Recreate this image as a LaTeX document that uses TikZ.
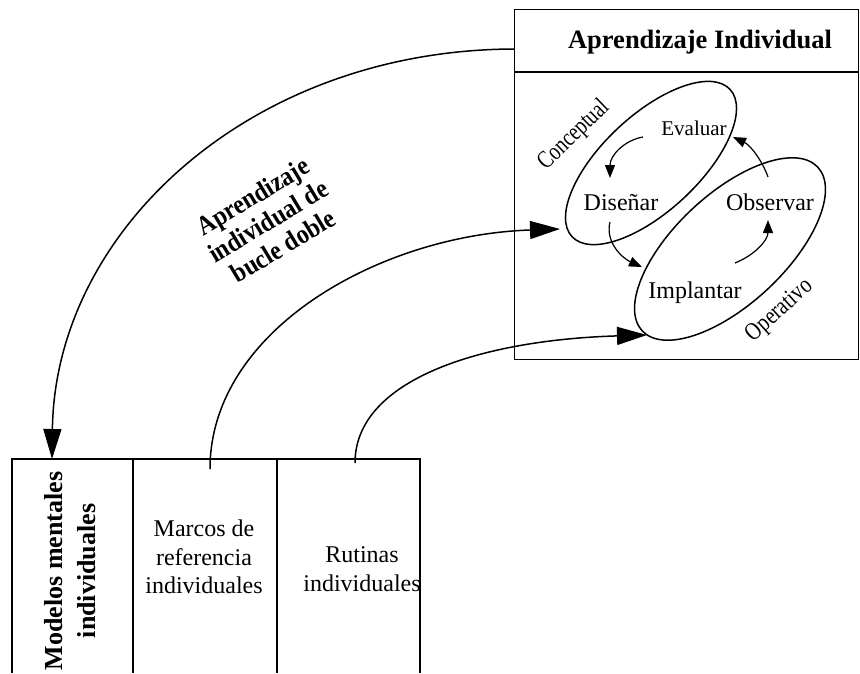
\documentclass[tikz,border=0pt]{standalone}
\usepackage{fontspec}
\setmainfont{Liberation Serif}
\usetikzlibrary{arrows.meta,shapes.geometric,calc}
% narrow setting for the slanted labels
\newcommand{\narrow}[2]{\scalebox{#1}[1]{#2}}
\begin{document}
\begin{tikzpicture}[x=1pt,y=-1pt,
  frame/.style={line width=1.4pt},
  loopshape/.style={draw, ellipse, line width=1.5pt, inner sep=0pt},
  bigarrow/.style={line width=1.5pt, -{Triangle[length=30pt,width=18pt]}},
  smallarrow/.style={line width=1.2pt, -{Triangle[length=13pt,width=10pt]}},
  steptext/.style={font=\fontsize{24}{28}\selectfont, inner sep=0pt, anchor=base},
  celltext/.style={font=\fontsize{24}{28.5}\selectfont, inner sep=0pt, align=center},
  looplabel/.style={font=\fontsize{25}{28}\selectfont, inner sep=0pt},
  boldtext/.style={font=\bfseries\fontsize{26}{33}\selectfont, inner sep=0pt, align=center}
]
\useasboundingbox (0,0) rectangle (860,673);

% --- Individual learning panel ---
\node[frame, draw, inner sep=0pt, minimum width=344pt, minimum height=350pt,
      anchor=north west] (ai) at (514,9) {};
\draw[frame] ($(ai.north west)+(0,63)$) -- ($(ai.north east)+(0,63)$);
\node[font=\bfseries\fontsize{26.5}{30}\selectfont, inner sep=0pt, anchor=base]
      (title) at (700,48) {Aprendizaje Individual};

% the two learning loops
\node[loopshape, minimum width=216pt, minimum height=96pt, rotate=43] (conc) at (651,163) {};
\node[loopshape, minimum width=240pt, minimum height=110pt, rotate=43] (oper) at (730,249) {};

\node[looplabel, rotate=44] (lconc) at (574,135) {\narrow{0.78}{Conceptual}};
\node[looplabel, rotate=42] (loper) at (780,311) {\narrow{0.81}{Operativo}};

\node[steptext, font=\fontsize{21}{25}\selectfont] (ev) at (694,135) {Evaluar};
\node[steptext] (dis) at (621,210) {Diseñar};
\node[steptext] (obs) at (770,210) {Observar};
\node[steptext] (imp) at (695,298) {Implantar};

% cycle arrows
\draw[smallarrow] ($(ev.base)+(-51,2)$) .. controls +(-18,3) and +(0,-23) .. ($(dis.base)+(-11,-32)$);
\draw[smallarrow] ($(dis.base)+(-11,12)$) .. controls +(-5,20) and +(-20,-9) .. ($(imp.base)+(-53,-31)$);
\draw[smallarrow] ($(imp.base)+(40,-35)$) .. controls +(20,-8) and +(0,20) .. ($(obs.base)+(-2,10)$);
\draw[smallarrow] ($(obs.base)+(-2,-33)$) .. controls +(-6,-17) and +(17,8) .. ($(ev.base)+(39,2)$);

% --- Individual mental models table ---
\draw[frame] (12,673) -- (12,459) -- (420,459) -- (420,673);
\draw[frame] (133,459) -- (133,673);
\draw[frame] (277,459) -- (277,673);

\node[boldtext, rotate=90] (mm) at (70,571) {Modelos mentales\\individuales};
\node[celltext] (mr) at (204,557) {Marcos de\\referencia\\individuales};
\node[celltext] (ri) at (362,569) {Rutinas\\individuales};

\coordinate (mmtop) at (52,459);
\coordinate (mrtop) at (210,469);
\coordinate (ritop) at (355,463);

% --- feedback arrows ---
\draw[bigarrow] ($(ai.north west)+(0,40)$) .. controls +(-264,1) and +(3,-228) .. (mmtop);
\draw[bigarrow] (mrtop) .. controls +(0,-139) and +(-180,6) .. ($(conc.center)+(-91,66)$);
\draw[bigarrow] (ritop) .. controls +(0,-83) and +(-167,5) .. ($(oper.center)+(-83,86)$);

\node[boldtext, font=\bfseries\fontsize{27}{29}\selectfont, rotate=31] (bd) at (268,221)
      {\narrow{0.89}{Aprendizaje}\\\narrow{0.89}{individual de}\\\narrow{0.89}{bucle doble}};
\end{tikzpicture}
\end{document}
